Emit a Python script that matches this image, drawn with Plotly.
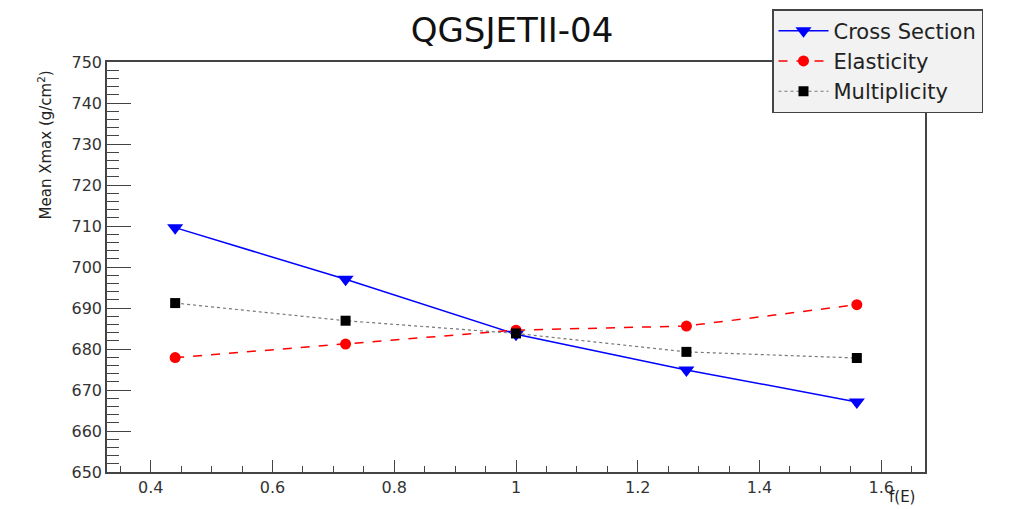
import plotly.graph_objects as go

f_e = [0.44, 0.72, 1.0, 1.28, 1.56]
cross_section = [709.6, 697.0, 683.6, 674.9, 667.1]
elasticity = [677.9, 681.2, 684.6, 685.6, 690.8]
multiplicity = [691.2, 686.9, 683.8, 679.3, 677.8]

title_text = "QGSJETII-04"
x_title = "f(E)"
y_title = "Mean Xmax (g/cm<sup>2</sup>)"

FONT = "DejaVu Sans"
# page body has an 8px default margin; figure is sized/placed to compensate
W, H = 1012, 501

fig = go.Figure()
fig.add_trace(go.Scatter(
    x=f_e, y=cross_section, name="Cross Section", mode="lines+markers",
    line=dict(color="#0000ff", width=1.5),
    marker=dict(symbol="triangle-down", size=14, color="#0000ff")))
fig.add_trace(go.Scatter(
    x=f_e, y=elasticity, name="Elasticity", mode="lines+markers",
    line=dict(color="#ff0000", width=1.5, dash="dash"),
    marker=dict(symbol="circle", size=11, color="#ff0000")))
fig.add_trace(go.Scatter(
    x=f_e, y=multiplicity, name="Multiplicity", mode="lines+markers",
    line=dict(color="#777777", width=1.2, dash="dot"),
    marker=dict(symbol="square", size=10, color="#000000")))

axis_common = dict(
    showgrid=False, zeroline=False, showline=True, mirror=True,
    linecolor="#444444", linewidth=1.5, ticks="inside", tickcolor="#444444",
    tickfont=dict(family=FONT, size=16, color="#333333"),
)

fig.update_xaxes(
    range=[0.328, 1.672], dtick=0.2, tick0=0, ticklen=12, tickwidth=1.3,
    minor=dict(ticks="inside", dtick=0.05, ticklen=6, tickcolor="#444444", tickwidth=1),
    **axis_common)
fig.update_yaxes(
    range=[650, 750], dtick=10, tick0=0, ticklen=24, tickwidth=1.3,
    minor=dict(ticks="inside", dtick=2, ticklen=12, tickcolor="#444444", tickwidth=1),
    **axis_common)

fig.update_layout(
    width=W, height=H,
    margin=dict(l=99, r=95, t=54, b=37, autoexpand=False),
    paper_bgcolor="white", plot_bgcolor="white",
    title=dict(text=title_text, x=504 / W, xanchor="center", y=1 - 22 / H, yanchor="middle",
               font=dict(family=FONT, size=34, color="#111111")),
    legend=dict(
        xref="container", yref="container",
        x=764 / W, xanchor="left", y=1 - 1 / H, yanchor="top",
        bgcolor="#f2f2f2", bordercolor="#444444", borderwidth=1.5,
        font=dict(family=FONT, size=21, color="#222222"),
        itemwidth=50, tracegroupgap=0,
    ),
    annotations=[
        dict(text=y_title, xref="paper", yref="paper", x=-0.076, y=0.985,
             xanchor="center", yanchor="top", textangle=-90, showarrow=False,
             font=dict(family=FONT, size=15, color="#222222")),
        dict(text=x_title, xref="paper", yref="paper", x=0.99, y=-0.035,
             xanchor="right", yanchor="top", showarrow=False,
             font=dict(family=FONT, size=15, color="#222222")),
    ],
)

fig.write_html("out.html")
